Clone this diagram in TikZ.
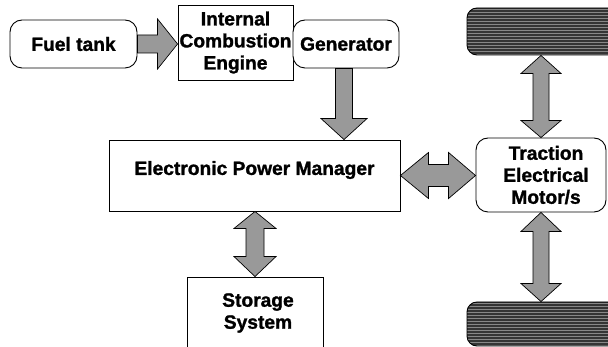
\documentclass[tikz,border=0pt]{standalone}
\usepackage{fontspec}
\setmainfont[BoldFeatures={FakeBold=1.3}]{Liberation Sans}
\usetikzlibrary{calc}

\definecolor{arrowgray}{RGB}{153,153,153}
\definecolor{treaddark}{RGB}{52,52,52}
\definecolor{treadlight}{RGB}{135,135,135}

\tikzset{
  lbl/.style={font=\bfseries\fontsize{19.2}{22}\selectfont, align=center, inner sep=0pt},
  plainbox/.style={draw, line width=0.9pt, fill=white, inner sep=0pt, lbl},
  roundbox/.style={plainbox, rounded corners=12pt},
  blockarrow/.style={draw, line width=0.7pt, fill=arrowgray, line join=miter},
  wheel/.style={draw, line width=0.9pt, fill=treaddark, rounded corners=10pt, inner sep=0pt,
    path picture={
      \foreach \k in {0,...,18}{
        \draw[treadlight, line width=0.9pt]
          ($(path picture bounding box.north west)+(0,1.5+3*\k)$) --
          ($(path picture bounding box.north east)+(0,1.5+3*\k)$);
      }}},
}

% Straight block arrows between two points (axis-aligned).
% #1 tail, #2 tip, #3 half shaft width, #4 half head width, #5 head length
\newcommand\harrowsingle[5]{%
  \draw[blockarrow] let \p1=(#1), \p2=(#2) in
    (\x1,\y1+#3) -- (\x2-#5,\y1+#3) -- (\x2-#5,\y1+#4) -- (\x2,\y1)
    -- (\x2-#5,\y1-#4) -- (\x2-#5,\y1-#3) -- (\x1,\y1-#3) -- cycle;}
\newcommand\varrowsingle[5]{%
  \draw[blockarrow] let \p1=(#1), \p2=(#2) in
    (\x1-#3,\y1) -- (\x1-#3,\y2+#5) -- (\x1-#4,\y2+#5) -- (\x1,\y2)
    -- (\x1+#4,\y2+#5) -- (\x1+#3,\y2+#5) -- (\x1+#3,\y1) -- cycle;}
% double-headed: #5 head length at #1, #6 head length at #2
\newcommand\harrowdouble[6]{%
  \draw[blockarrow] let \p1=(#1), \p2=(#2) in
    (\x1,\y1) -- (\x1+#5,\y1+#4) -- (\x1+#5,\y1+#3) -- (\x2-#6,\y1+#3)
    -- (\x2-#6,\y1+#4) -- (\x2,\y1) -- (\x2-#6,\y1-#4) -- (\x2-#6,\y1-#3)
    -- (\x1+#5,\y1-#3) -- (\x1+#5,\y1-#4) -- cycle;}
\newcommand\varrowdouble[6]{%
  \draw[blockarrow] let \p1=(#1), \p2=(#2) in
    (\x1,\y1) -- (\x1+#4,\y1-#5) -- (\x1+#3,\y1-#5) -- (\x1+#3,\y2+#6)
    -- (\x1+#4,\y2+#6) -- (\x1,\y2) -- (\x1-#4,\y2+#6) -- (\x1-#3,\y2+#6)
    -- (\x1-#3,\y1-#5) -- (\x1-#4,\y1-#5) -- cycle;}

\begin{document}
\begin{tikzpicture}[x=1pt, y=-1pt]
  \useasboundingbox[fill=white] (0,0) rectangle (608,347);

  % engine chain
  \node[roundbox, minimum width=127pt, minimum height=48pt] (fuel) at (73.5,44) {Fuel tank};
  \node[plainbox, minimum width=115pt, minimum height=75pt] (ice) at (235.5,42.5) {Internal\\Combustion\\Engine};
  \node[roundbox, minimum width=106pt, minimum height=48pt] (gen) at (346,44) {Generator};

  % power management and storage
  \node[plainbox, minimum width=291pt, minimum height=71pt] (epm) at (254.5,175.5) {};
  \node[lbl] (epmtext) at (254.5,170) {Electronic Power Manager};
  \node[plainbox, minimum width=136pt, minimum height=90pt] (storage) at (255,322) {};
  \node[lbl] (storagetext) at (258,313) {Storage\\System};

  % traction motor and wheels
  \node[roundbox, minimum width=130pt, minimum height=74pt] (motor) at (541,175) {};
  \node[lbl] (motortext) at (546,175) {Traction\\Electrical\\Motor/s};
  \node[wheel, minimum width=163pt, minimum height=47pt] (wheeltop) at (548.5,31.5) {};
  \node[wheel, minimum width=163pt, minimum height=44pt] (wheelbottom) at (548.5,324) {};

  % power flows
  \harrowsingle{fuel.east}{ice.west |- fuel.east}{9pt}{25pt}{20pt}
  \varrowsingle{$(gen.south)+(-2,0)$}{$(gen.south |- epm.north)+(-2,0)$}{8.5pt}{23pt}{21pt}
  \harrowdouble{epm.east}{motor.west |- epm.east}{11pt}{23pt}{28pt}{27pt}
  \varrowdouble{storage.north |- epm.south}{storage.north}{9pt}{21pt}{17pt}{20pt}
  \varrowdouble{motor.north |- wheeltop.south}{motor.north}{8pt}{20pt}{18pt}{17pt}
  \varrowdouble{motor.south}{motor.south |- wheelbottom.north}{8pt}{20pt}{19pt}{18pt}
\end{tikzpicture}
\end{document}
